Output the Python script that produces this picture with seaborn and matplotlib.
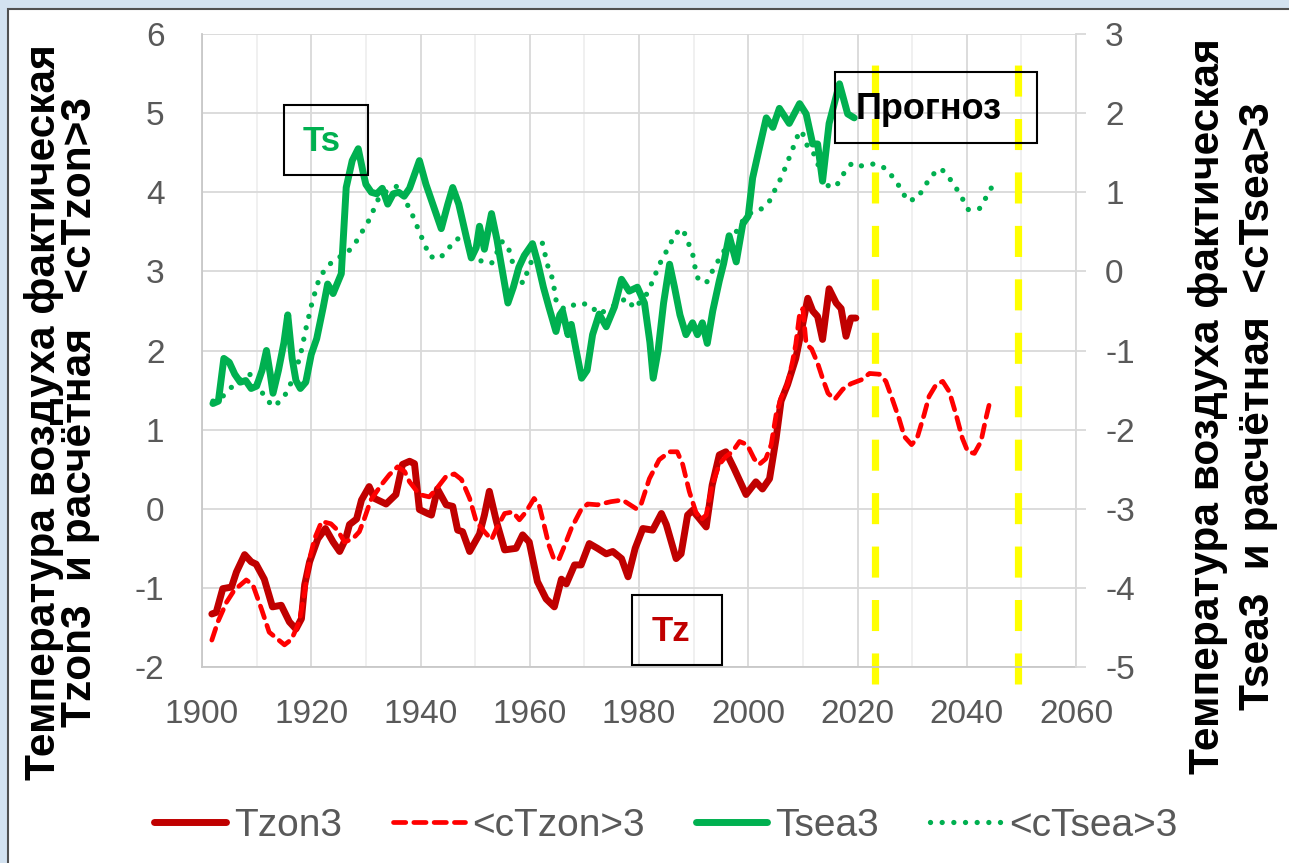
import numpy as np
import pandas as pd
import seaborn as sns
import matplotlib
matplotlib.use("Agg")
import matplotlib.pyplot as plt
from matplotlib.patches import Rectangle
from matplotlib.ticker import MultipleLocator

# ---------------- data ----------------
tzon_year = [1901.8, 1902.6, 1903.8, 1905.4, 1906.3, 1907.8, 1909, 1909.9, 1911.4, 1912.9, 1914.5, 1916,
             1917.2, 1918.2, 1918.8, 1919.7, 1921.2, 1922.6, 1924, 1925.2, 1926.3, 1927, 1928.3, 1929.2,
             1930.6, 1931.6, 1933.7, 1935.5, 1936.7, 1938, 1938.9, 1939.8, 1941.3, 1942, 1943.1, 1944.7,
             1945.9, 1946.8, 1947.7, 1949, 1950.8, 1951.7, 1952.6, 1953.9, 1955.4, 1957.5, 1958.7, 1959.9,
             1961.4, 1963, 1964.5, 1965.8, 1966.7, 1968.2, 1969.4, 1970.9, 1972.4, 1974, 1975.2, 1976.8,
             1978, 1979.3, 1980.7, 1982.5, 1984.1, 1985, 1986.8, 1987.7, 1988.9, 1989.8, 1991, 1992.3,
             1993.4, 1994.7, 1995.9, 1997.4, 1999.6, 2001.4, 2002.6, 2003.9, 2005.1, 2006, 2007.2, 2008.7,
             2009.7, 2010.9, 2011.8, 2012.7, 2013.6, 2014.8, 2016.1, 2017, 2017.9, 2018.8, 2019.7]
tzon_val = [-1.33, -1.31, -1.01, -0.99, -0.80, -0.58, -0.67, -0.70, -0.89, -1.24, -1.22, -1.43,
            -1.52, -1.39, -0.96, -0.67, -0.38, -0.25, -0.42, -0.54, -0.38, -0.20, -0.13, 0.11,
            0.28, 0.13, 0.06, 0.18, 0.56, 0.60, 0.57, -0.01, -0.06, -0.08, 0.25, 0.05,
            0.03, -0.27, -0.29, -0.54, -0.32, -0.08, 0.22, -0.16, -0.52, -0.50, -0.33, -0.42,
            -0.92, -1.14, -1.24, -0.89, -0.95, -0.71, -0.71, -0.44, -0.50, -0.57, -0.54, -0.63,
            -0.86, -0.50, -0.25, -0.27, -0.06, -0.20, -0.63, -0.57, -0.08, -0.02, -0.12, -0.23,
            0.30, 0.68, 0.72, 0.51, 0.18, 0.34, 0.25, 0.38, 0.89, 1.36, 1.57, 1.90,
            2.24, 2.66, 2.50, 2.43, 2.14, 2.78, 2.60, 2.53, 2.18, 2.41, 2.41]

ctzon_year = [1901.8, 1902.9, 1904.5, 1905.9, 1908.1, 1909.3, 1910.9, 1912.3, 1915.1, 1916.4, 1917.8, 1918.8,
              1919.7, 1920.6, 1921.9, 1923.6, 1924.8, 1926.1, 1927.6, 1928.8, 1929.7, 1930.9, 1932.8, 1934.3,
              1935.8, 1937.1, 1938, 1939.8, 1941.6, 1942.9, 1944.7, 1946.2, 1947.5, 1949, 1950.2, 1951.7,
              1953, 1953.9, 1955.4, 1956.9, 1958.1, 1959.3, 1960.8, 1961.7, 1962.6, 1963.5, 1964.5, 1965.4,
              1966.3, 1967.6, 1969.4, 1970.6, 1972.4, 1974.9, 1977, 1979.5, 1980.4, 1981.9, 1983.7, 1985.6,
              1987, 1988, 1989.2, 1990.4, 1991.3, 1992.3, 1993.4, 1994.7, 1995.9, 1997.1, 1998.4, 1999.8,
              2001.1, 2002, 2003.2, 2004.2, 2005.1, 2006, 2007.2, 2008.1, 2008.7, 2009.4, 2010, 2010.6,
              2011.6, 2012.7, 2013.6, 2014.6, 2015.8, 2017.3, 2018.8, 2020.7, 2022.2, 2024, 2025.2, 2026.4,
              2027.6, 2028.6, 2029.9, 2030.9, 2032.2, 2033.1, 2034.4, 2035.6, 2036.8, 2038, 2039.2, 2040.2,
              2041.4, 2042.6, 2043.5, 2044.4]
ctzon_val = [-1.66, -1.43, -1.18, -1.03, -0.90, -0.96, -1.27, -1.56, -1.72, -1.65, -1.43, -1.05,
             -0.63, -0.38, -0.16, -0.19, -0.27, -0.42, -0.38, -0.29, -0.13, 0.11, 0.30, 0.43,
             0.53, 0.47, 0.34, 0.18, 0.15, 0.25, 0.41, 0.44, 0.37, 0.13, -0.16, -0.29,
             -0.39, -0.25, -0.06, -0.04, -0.14, -0.04, 0.13, 0.05, -0.20, -0.46, -0.65, -0.63,
             -0.48, -0.25, -0.01, 0.06, 0.05, 0.09, 0.11, 0.00, 0.06, 0.38, 0.62, 0.72,
             0.72, 0.56, 0.22, -0.04, -0.14, -0.08, 0.30, 0.56, 0.66, 0.72, 0.85, 0.81,
             0.63, 0.56, 0.63, 0.81, 1.19, 1.40, 1.58, 1.86, 2.08, 2.46, 2.53, 2.08,
             2.02, 1.84, 1.65, 1.46, 1.38, 1.51, 1.58, 1.63, 1.71, 1.70, 1.61, 1.38,
             1.14, 0.91, 0.81, 0.89, 1.19, 1.42, 1.57, 1.61, 1.48, 1.20, 0.89, 0.72,
             0.70, 0.85, 1.14, 1.40]

tsea_year = [1902, 1903, 1904, 1905, 1906, 1907, 1908, 1909, 1910, 1911, 1911.8, 1912.5, 1913, 1914, 1915,
             1915.7, 1916.5, 1917.2, 1918, 1919, 1920, 1921, 1922.2, 1923, 1924, 1925.5, 1926.4, 1927.5,
             1928.6, 1929.5, 1930, 1931, 1932, 1933, 1934, 1935, 1936, 1937, 1938, 1939.8, 1941, 1942.5,
             1943.8, 1945, 1945.9, 1947, 1948.5, 1949.3, 1950.2, 1950.8, 1951.7, 1953, 1954, 1955, 1956,
             1957, 1958, 1959, 1960.5, 1961.5, 1962.5, 1963.5, 1964.8, 1965.5, 1966, 1967, 1967.6, 1968.5,
             1969.5, 1970.5, 1971.5, 1972.7, 1974, 1975.5, 1976.8, 1978.2, 1979.7, 1981, 1982, 1982.6,
             1983.5, 1984.5, 1985.6, 1986.5, 1987.5, 1988.6, 1989.8, 1990.7, 1991.6, 1992.5, 1993.5,
             1994.7, 1995.5, 1996.5, 1997.8, 1999, 2000, 2000.8, 2002, 2003.3, 2004.5, 2005.7, 2007.5,
             2009.4, 2010.6, 2011.8, 2012.7, 2013.6, 2014.8, 2016.7, 2018.2, 2019.4]
tsea_val = [-1.67, -1.64, -1.10, -1.15, -1.30, -1.40, -1.38, -1.48, -1.45, -1.25, -1.00, -1.30, -1.54,
            -1.25, -0.90, -0.55, -1.10, -1.38, -1.48, -1.40, -1.05, -0.85, -0.45, -0.16, -0.28, -0.03,
            1.06, 1.40, 1.55, 1.25, 1.10, 1.00, 0.98, 1.05, 0.85, 0.98, 1.00, 0.95, 1.05, 1.40, 1.10,
            0.80, 0.54, 0.85, 1.06, 0.85, 0.40, 0.17, 0.30, 0.57, 0.28, 0.73, 0.40, 0.00, -0.40, -0.20,
            0.05, 0.20, 0.35, 0.10, -0.20, -0.45, -0.76, -0.55, -0.50, -0.80, -0.67, -1.00, -1.35, -1.25,
            -0.80, -0.54, -0.70, -0.45, -0.10, -0.25, -0.20, -0.40, -0.90, -1.35, -1.00, -0.40, 0.09,
            -0.20, -0.55, -0.80, -0.65, -0.80, -0.65, -0.91, -0.50, -0.12, 0.10, 0.45, 0.12, 0.60, 0.70,
            1.18, 1.55, 1.94, 1.82, 2.06, 1.87, 2.12, 1.99, 1.61, 1.61, 1.14, 1.87, 2.37, 1.99, 1.94]

ctsea_year = [1902, 1903.8, 1905.6, 1907.4, 1909, 1910, 1911.4, 1913, 1914.7, 1915.9, 1917.5, 1918.2, 1919.1,
              1920.2, 1921.5, 1923, 1924.8, 1926.4, 1928, 1929.2, 1930.3, 1931.3, 1932.5, 1934, 1935.8,
              1936.8, 1938, 1939, 1939.8, 1940.7, 1941.6, 1943.5, 1945, 1946.6, 1948.4, 1950, 1951.1, 1953,
              1955, 1956.3, 1956.9, 1958.7, 1959.6, 1961, 1962.3, 1963.3, 1964.2, 1964.9, 1966.4, 1968.8,
              1970.9, 1972.7, 1975, 1977.7, 1979.2, 1981.6, 1982.5, 1983.4, 1984.3, 1985.6, 1986.5, 1988,
              1988.9, 1989.8, 1990.2, 1990.7, 1992.3, 1993.4, 1995.2, 1997.1, 1999, 2000.8, 2002.4, 2003.9,
              2005.1, 2006, 2006.9, 2007.8, 2008.7, 2009.4, 2010.3, 2010.9, 2011.8, 2013, 2014.8, 2016.3,
              2017.6, 2019, 2020.9, 2023.1, 2025.2, 2026.7, 2028, 2029.1, 2030.9, 2032.2, 2033.5, 2035.3,
              2036.8, 2038, 2039.2, 2040.3, 2042.3, 2043.5, 2044.7]
ctsea_val = [-1.64, -1.58, -1.45, -1.33, -1.30, -1.40, -1.58, -1.71, -1.62, -1.48, -1.18, -1.00, -0.70,
             -0.38, -0.08, 0.07, 0.17, 0.22, 0.35, 0.49, 0.61, 0.76, 0.95, 1.02, 1.08,
             0.95, 0.79, 0.64, 0.49, 0.36, 0.19, 0.16, 0.28, 0.41, 0.41, 0.25, 0.13, 0.10,
             0.38, 0.26, 0.10, -0.15, 0.00, 0.25, 0.36, 0.07, -0.10, -0.40, -0.48, -0.40,
             -0.42, -0.54, -0.45, -0.34, -0.47, -0.27, -0.12, 0.03, 0.17, 0.32, 0.47, 0.54,
             0.38, 0.23, 0.07, -0.08, -0.15, 0.00, 0.22, 0.42, 0.64, 0.76, 0.79, 0.89,
             1.06, 1.18, 1.33, 1.49, 1.65, 1.78, 1.71, 1.56, 1.52, 1.31, 1.06, 1.10,
             1.25, 1.37, 1.33, 1.36, 1.30, 1.17, 1.04, 0.89, 0.92, 1.06, 1.21, 1.30,
             1.18, 1.06, 0.92, 0.78, 0.79, 0.93, 1.08]

forecast_bounds = [2023.2, 2049.4]
series_labels = ["Tzon3", "<cTzon>3", "Tsea3", "<cTsea>3"]
left_ticks = [-2, -1, 0, 1, 2, 3, 4, 5, 6]
right_ticks = [-5, -4, -3, -2, -1, 0, 1, 2, 3]
x_ticks = [1900, 1920, 1940, 1960, 1980, 2000, 2020, 2040, 2060]
left_label = "Температура воздуха фактическая\nTzon3  и расчётная   <cTzon>3"
right_label = "Температура воздуха фактическая\nTsea3  и расчётная  <cTsea>3"

# ---------------- figure ----------------
sns.set_theme(style="white")
plt.rcParams["font.family"] = ["Liberation Sans", "DejaVu Sans"]
plt.rcParams["axes.unicode_minus"] = False

W, H = 1289, 863
fig = plt.figure(figsize=(W / 100, H / 100), dpi=100, facecolor="#d3e2f0")

def fx(px):
    return px / W

def fy(py):
    return 1 - py / H

# white panel with dark border
fig.patches.append(Rectangle((fx(8), -0.05), 1.1, fy(9) + 0.05, transform=fig.transFigure,
                             facecolor="white", edgecolor="#505050", lw=1.5, zorder=-10))

ax = fig.add_axes([fx(202), fy(667), fx(1076 - 202), (667 - 34) / H])
ax.set_facecolor("white")
ax2 = ax.twinx()
ax2.patch.set_visible(False)

ax.set_xlim(1900, 2060)
ax.set_ylim(-2, 6)
ax2.set_ylim(-5, 3)
ax.set_xticks(x_ticks)
ax.xaxis.set_minor_locator(MultipleLocator(10))
ax.set_yticks(left_ticks)
ax2.set_yticks(right_ticks)

ax.grid(which="major", axis="both", color="#d9d9d9", lw=1.3)
ax.grid(which="minor", axis="x", color="#eeeeee", lw=1.2)
ax.set_axisbelow(True)

for s in ["top", "right"]:
    ax.spines[s].set_visible(False)
for s in ["left", "bottom"]:
    ax.spines[s].set_color("#c8c8c8")
    ax.spines[s].set_linewidth(1.3)
for s in ["top", "left", "bottom"]:
    ax2.spines[s].set_visible(False)
ax2.spines["right"].set_color("#d9d9d9")
ax2.spines["right"].set_linewidth(1.3)

ax.tick_params(axis="y", left=False, labelsize=24, labelcolor="#595959", pad=21)
ax.tick_params(axis="x", which="both", bottom=False, labelsize=24, labelcolor="#595959", pad=17)
ax2.tick_params(axis="y", right=True, length=7, width=1.3, color="#d9d9d9", direction="out",
                labelsize=24, labelcolor="#595959", pad=14)

# forecast borders
for xb in forecast_bounds:
    ax.axvline(xb, ymin=-0.027, ymax=0.96, color="#FFFF00", lw=5.2,
               linestyle=(0, (4.3, 3.1)), clip_on=False, zorder=1)

# series
sns.lineplot(x=tzon_year, y=tzon_val, ax=ax, color="#C00000", lw=5, sort=False,
             solid_joinstyle="round", solid_capstyle="round", zorder=3)
sns.lineplot(x=ctzon_year, y=ctzon_val, ax=ax, color="#FF0000", lw=3.4, sort=False,
             linestyle=(0, (2.6, 1.7)), dash_capstyle="round", dash_joinstyle="round", zorder=4)
sns.lineplot(x=tsea_year, y=tsea_val, ax=ax2, color="#00B050", lw=5, sort=False,
             solid_joinstyle="round", solid_capstyle="round", zorder=3)
sns.lineplot(x=ctsea_year, y=ctsea_val, ax=ax2, color="#00B050", lw=3.8, sort=False,
             linestyle=(0, (0.01, 2.2)), dash_capstyle="round", zorder=4)
ax.set_xlabel("")
ax.set_ylabel("")
ax2.set_ylabel("")

handles = [ax.lines[-2], ax.lines[-1], ax2.lines[0], ax2.lines[1]]

# annotation boxes
def box(x0, y0, x1, y1):
    fig.patches.append(Rectangle((fx(x0), fy(y1)), fx(x1 - x0), (y1 - y0) / H,
                                 transform=fig.transFigure, facecolor="none",
                                 edgecolor="black", lw=1.5, zorder=20))

box(284, 105, 368, 175)
fig.text(fx(303), fy(151), "Ts", color="#00B050", fontsize=25, fontweight="bold",
         ha="left", va="baseline", zorder=21)
box(835, 72, 1037, 143)
fig.text(fx(856), fy(119), "Прогноз", color="black", fontsize=26, fontweight="bold",
         ha="left", va="baseline", zorder=21)
box(632, 595, 722, 665)
fig.text(fx(652), fy(641), "Tz", color="#C00000", fontsize=25, fontweight="bold",
         ha="left", va="baseline", zorder=21)

# axis titles
lab_font = ["Liberation Sans", "DejaVu Sans"]
fig.text(fx(62), fy(412), left_label, rotation=90, ha="center", va="center",
         multialignment="center", fontsize=30.5, fontweight="bold", family=lab_font,
         linespacing=0.88, color="black")
fig.text(fx(1233), fy(406), right_label, rotation=90, ha="center", va="center",
         multialignment="center", fontsize=30.5, fontweight="bold", family=lab_font,
         linespacing=1.3, color="black")

# legend
fig.legend(handles, series_labels, loc="center", bbox_to_anchor=(fx(666), fy(826)),
           ncol=4, frameon=False, fontsize=28, handlelength=1.85, handletextpad=0.2,
           columnspacing=1.3, labelcolor="#595959")

fig.savefig("out.png", dpi=100, facecolor=fig.get_facecolor())
